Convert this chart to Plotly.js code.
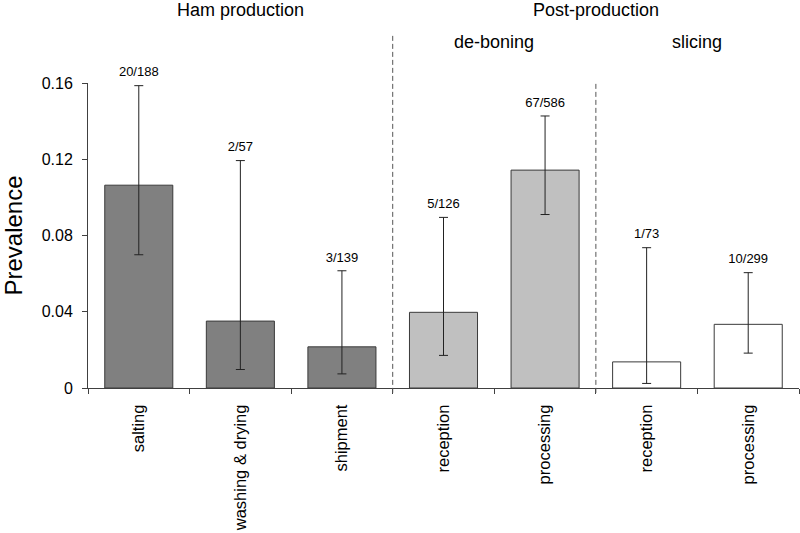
<!DOCTYPE html>
<html><head><meta charset="utf-8">
<script src="https://cdn.plot.ly/plotly-3.0.1.min.js"></script>
<style>html,body{margin:0;padding:0;background:#fff}#chart{width:800px;height:533px}</style>
</head><body><div id="chart"></div>
<script>
// ---- data ----
const stages = ["salting", "washing & drying", "shipment", "reception", "processing", "reception", "processing"];
const positives = ["20/188", "2/57", "3/139", "5/126", "67/586", "1/73", "10/299"];
const prevalence = [0.1064, 0.0351, 0.0216, 0.0397, 0.1143, 0.0137, 0.0334];
const ciLow = [0.0699, 0.0097, 0.0074, 0.0171, 0.0910, 0.0024, 0.0183];
const ciHigh = [0.1586, 0.1193, 0.0615, 0.0895, 0.1427, 0.0736, 0.0605];
const yTickVals = [0, 0.04, 0.08, 0.12, 0.16];
const yTickText = ["0", "0.04", "0.08", "0.12", "0.16"];
const groupLabels = ["Ham production", "Post-production"];
const subGroupLabels = ["de-boning", "slicing"];

// ---- styling / layout helpers ----
const barFills = ["#808080", "#808080", "#808080", "#c0c0c0", "#c0c0c0", "#ffffff", "#ffffff"];
const groupCenters = [1, 4.5];
const subGroupCenters = [3.5, 5.5];
const dividerX = [2.5, 4.5];
const dividerTop = [1.155, 1.0];

const xpos = stages.map((_, i) => i);
const boundaries = [-0.5].concat(xpos.map(i => i + 0.5));
const FONT = "Liberation Sans, Arial, Helvetica, sans-serif";

const bars = {
  type: "bar",
  x: xpos,
  y: prevalence,
  width: 0.67,
  marker: { color: barFills, line: { color: "#3a3a3a", width: 1 } },
  error_y: {
    type: "data", symmetric: false,
    array: ciHigh.map((h, i) => h - prevalence[i]),
    arrayminus: ciLow.map((l, i) => prevalence[i] - l),
    color: "#222", thickness: 1, width: 4.5
  },
  hoverinfo: "skip"
};

const counts = {
  type: "scatter", mode: "markers+text",
  x: xpos, y: ciHigh,
  text: positives,
  textposition: "top center",
  marker: { size: 8, opacity: 0 },
  textfont: { size: 13, family: FONT, color: "#000" },
  cliponaxis: false,
  hoverinfo: "skip"
};

const boundaryHolder = { type: "scatter", x: [], y: [], xaxis: "x2", hoverinfo: "skip", showlegend: false };

const shapes = dividerX.map((x, i) => ({
  type: "line", xref: "x", yref: "paper",
  x0: x, x1: x, y0: -0.016, y1: dividerTop[i],
  line: { color: "#555", width: 1, dash: "5px,3px" }
}));

const annotations = groupLabels.map((t, i) => ({
  text: t, xref: "x", yref: "paper", x: groupCenters[i], y: 1.24,
  xanchor: "center", yanchor: "middle", showarrow: false,
  font: { size: 18, family: FONT, color: "#000" }
})).concat(subGroupLabels.map((t, i) => ({
  text: t, xref: "x", yref: "paper", x: subGroupCenters[i], y: 1.135,
  xanchor: "center", yanchor: "middle", showarrow: false,
  font: { size: 18, family: FONT, color: "#000" }
})));

const layout = {
  width: 800, height: 533,
  margin: { l: 88, r: 1, t: 83, b: 145, pad: 0 },
  paper_bgcolor: "#fff", plot_bgcolor: "#fff",
  showlegend: false,
  font: { family: FONT, color: "#000" },
  bargap: 0,
  xaxis: {
    range: [-0.5, 6.5],
    tickmode: "array", tickvals: xpos, ticktext: stages,
    tickangle: -90,
    ticks: "outside", ticklen: 9, tickcolor: "rgba(0,0,0,0)",
    tickfont: { size: 16.5, family: FONT, color: "#000" },
    showline: true, linecolor: "#404040", linewidth: 1,
    showgrid: false, zeroline: false, fixedrange: true
  },
  xaxis2: {
    overlaying: "x", anchor: "y", side: "bottom",
    range: [-0.5, 6.5],
    tickmode: "array", tickvals: boundaries,
    ticks: "outside", ticklen: 5, tickcolor: "#404040", tickwidth: 1,
    showticklabels: false, showline: false, showgrid: false, zeroline: false
  },
  yaxis: {
    range: [0, 0.16],
    tickmode: "array", tickvals: yTickVals, ticktext: yTickText,
    ticks: "outside", ticklen: 5, tickcolor: "#404040",
    ticklabelstandoff: 6,
    tickfont: { size: 16, family: FONT, color: "#000" },
    showline: true, linecolor: "#404040", linewidth: 1,
    showgrid: false, zeroline: false,
    title: { text: "Prevalence", font: { size: 24, family: FONT, color: "#000" }, standoff: 20 }
  },
  shapes: shapes,
  annotations: annotations
};

Plotly.newPlot("chart", [bars, counts, boundaryHolder], layout, { staticPlot: true, displayModeBar: false });
</script>
</body></html>
